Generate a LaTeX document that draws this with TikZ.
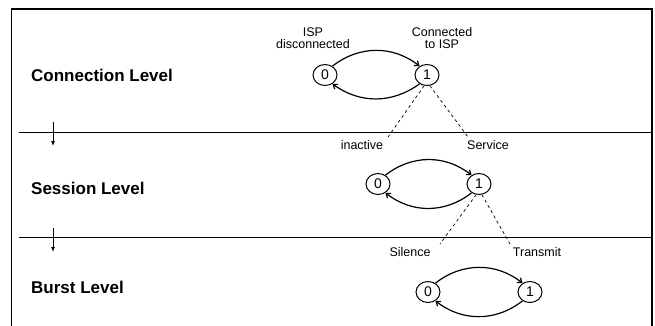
\documentclass[tikz,border=0pt]{standalone}
\usepackage{fontspec}
\setmainfont{Liberation Sans}
\usetikzlibrary{arrows.meta,shapes.geometric}
\tikzset{
  levellabel/.style={anchor=west,font=\fontsize{17}{20}\selectfont\bfseries,inner sep=0pt},
  small/.style={font=\fontsize{12.5}{12}\selectfont,align=center,inner sep=0pt},
  state/.style={draw,ellipse,minimum width=24pt,minimum height=21pt,inner sep=0pt,line width=1pt,font=\fontsize{14}{14}\selectfont},
  trans/.style={line width=1.2pt,-{Straight Barb[length=4pt,width=6pt]}},
  sub/.style={dash pattern=on 3pt off 3pt,line width=0.7pt},
  sep/.style={line width=0.9pt},
  down/.style={line width=0.9pt,-{Latex[length=5pt,width=4pt]}}
}
\begin{document}
\begin{tikzpicture}[x=1pt,y=1pt]
\useasboundingbox (0,0) rectangle (655,-325);
% frame
\draw[line width=1.2pt] (11.5,-335) -- (11.5,-9) -- (652,-9) -- (652,-335);
% separators
\coordinate (s1l) at (19,-132); \coordinate (s1r) at (652,-132);
\coordinate (s2l) at (19,-237); \coordinate (s2r) at (652,-237);
\draw[sep] (s1l) -- (s1r);
\draw[sep] (s2l) -- (s2r);
\coordinate (a1s) at (53,-122); \coordinate (a1e) at (53,-146);
\coordinate (a2s) at (53,-228); \coordinate (a2e) at (53,-252);
\draw[down] (a1s) -- (a1e);
\draw[down] (a2s) -- (a2e);
% level labels
\node[levellabel] (lc) at (31,-75) {Connection Level};
\node[levellabel] (ls) at (31,-188) {Session Level};
\node[levellabel] (lb) at (31,-287) {Burst Level};
% level 1
\node[state] (c0) at (325,-75) {0};
\node[state] (c1) at (427,-75) {1};
\node[small] (tisp) at (313,-38) {ISP\\disconnected};
\node[small] (tcon) at (442,-38) {Connected\\to ISP};
\draw[trans] (c0.50) to[bend left=38] (c1.130);
\draw[trans] (c1.-130) to[bend left=36] (c0.-50);
\node[small] (tin) at (362,-145) {inactive};
\node[small] (tser) at (488,-145) {Service};
\coordinate (d1a) at (388,-137);
\coordinate (d1b) at (468,-137);
\draw[sub] (c1.-105) -- (d1a);
\draw[sub] (c1.-75) -- (d1b);
% level 2
\node[state] (s0) at (378,-184) {0};
\node[state] (s1) at (479,-184) {1};
\draw[trans] (s0.50) to[bend left=38] (s1.130);
\draw[trans] (s1.-130) to[bend left=38] (s0.-50);
\node[small] (tsil) at (410,-252) {Silence};
\node[small] (ttr) at (537,-252) {Transmit};
\coordinate (d2a) at (440,-244);
\coordinate (d2b) at (510,-244);
\draw[sub] (s1.-105) -- (d2a);
\draw[sub] (s1.-75) -- (d2b);
% level 3
\node[state] (b0) at (428,-292) {0};
\node[state] (b1) at (530,-292) {1};
\draw[trans] (b0.50) to[bend left=38] (b1.130);
\draw[trans] (b1.-130) to[bend left=38] (b0.-50);
\end{tikzpicture}
\end{document}
